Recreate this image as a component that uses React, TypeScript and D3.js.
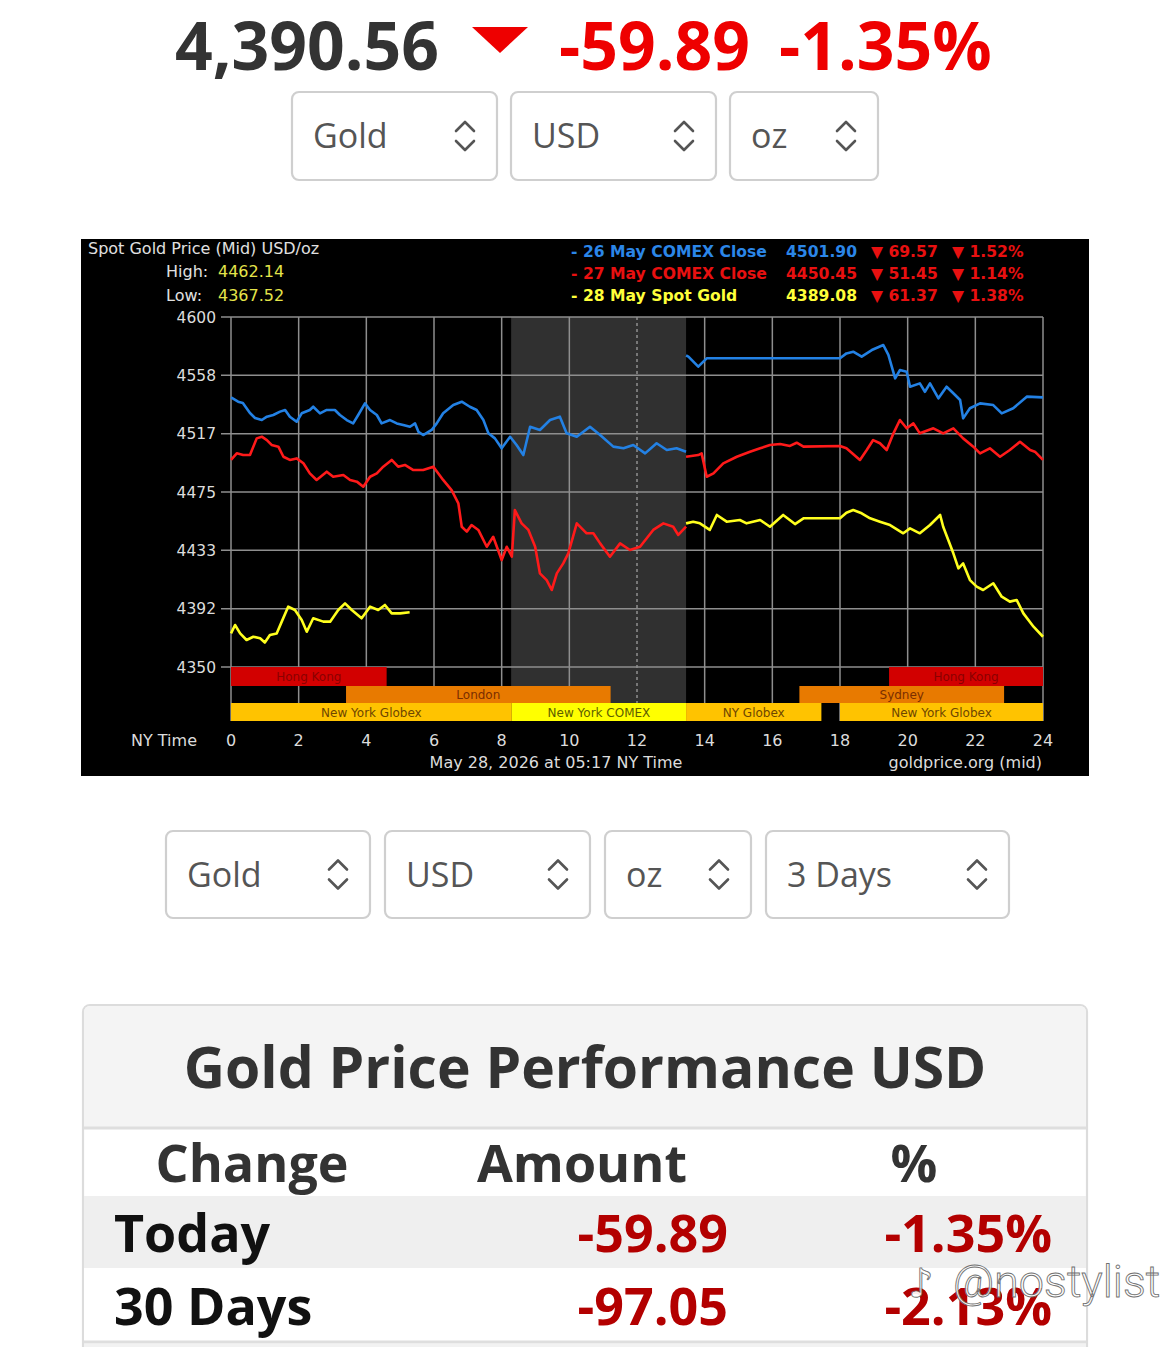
import React from 'react';
import * as d3 from 'd3';

// ---------- DATA ----------
const headerPrice = '4,390.56';
const headerChange = '-59.89';
const headerPct = '-1.35%';

const topSelects = ['Gold', 'USD', 'oz'];
const bottomSelects = ['Gold', 'USD', 'oz', '3 Days'];

const hourTicks = [0, 2, 4, 6, 8, 10, 12, 14, 16, 18, 20, 22, 24];
const priceTickValues = [4350, 4391.67, 4433.33, 4475, 4516.67, 4558.33, 4600];
const priceTickLabels = ['4350', '4392', '4433', '4475', '4517', '4558', '4600'];

const chartTitle = 'Spot Gold Price (Mid) USD/oz';
const highValue = '4462.14';
const lowValue = '4367.52';
const dateLabel = 'May 28, 2026 at 05:17 NY Time';
const sourceLabel = 'goldprice.org (mid)';

const legendLabels = ['- 26 May COMEX Close', '- 27 May COMEX Close', '- 28 May Spot Gold'];
const legendValues = ['4501.90', '4450.45', '4389.08'];
const legendChanges = ['69.57', '51.45', '61.37'];
const legendPcts = ['1.52%', '1.14%', '1.38%'];

const comexWindow = [8.28, 13.45];

const sessionNames = ['Hong Kong', 'London', 'New York Globex', 'New York COMEX', 'NY Globex', 'Sydney', 'New York Globex', 'Hong Kong'];
const sessionStarts = [0, 3.4, 0, 8.3, 13.45, 16.8, 18.0, 19.45];
const sessionEnds = [4.6, 11.22, 8.3, 13.45, 17.45, 22.85, 24, 24];
const sessionRows = [0, 1, 2, 2, 2, 1, 2, 0];
const sessionKinds = ['hk', 'ldn', 'nyg', 'comex', 'nyg', 'ldn', 'nyg', 'hk'];

// Blue: 26 May COMEX close day
const blueA: [number, number][] = [
  [13.45, 4572.5], [13.52, 4571.7], [13.81, 4564.5], [14.06, 4570.5], [14.45, 4570.5], [18.0, 4570.5],
  [18.19, 4574], [18.39, 4575.2], [18.64, 4571.7], [18.94, 4576.4], [19.28, 4580], [19.43, 4572.9],
  [19.63, 4556.2], [19.77, 4562.1], [19.97, 4560.9], [20.07, 4550.2], [20.36, 4552.6], [20.51, 4546.6],
  [20.66, 4552.6], [20.91, 4541.9], [21.15, 4550.2], [21.35, 4545.5], [21.55, 4540.7], [21.64, 4527.6],
  [21.84, 4534.8], [22.14, 4538.3], [22.53, 4537.1], [22.78, 4531.2], [23.12, 4534.8], [23.52, 4543.1],
  [24, 4542.6],
];
const blueB: [number, number][] = [
  [0, 4542.6], [0.21, 4539.5], [0.35, 4538.6], [0.56, 4531.4], [0.71, 4527.9], [0.91, 4526.4],
  [1.06, 4528.8], [1.25, 4530], [1.45, 4532.4], [1.6, 4533.6], [1.74, 4528.8], [1.94, 4525.2],
  [2.09, 4531.2], [2.33, 4533.6], [2.43, 4535.9], [2.63, 4531.2], [2.83, 4533.6], [3.07, 4533.6],
  [3.22, 4530], [3.42, 4526.4], [3.61, 4524], [3.76, 4530], [3.96, 4538.3], [4.11, 4533.6],
  [4.31, 4530], [4.45, 4524], [4.7, 4526.4], [4.9, 4524], [5.09, 4522.9], [5.29, 4521.6],
  [5.44, 4524], [5.54, 4518], [5.68, 4515.7], [5.93, 4519.3], [6.08, 4524], [6.27, 4531.2],
  [6.57, 4537.1], [6.82, 4539.5], [7.06, 4535.9], [7.26, 4533.6], [7.46, 4526.4], [7.61, 4516.9],
  [7.8, 4513.3], [8.0, 4506.2], [8.25, 4514.5], [8.44, 4508.6], [8.64, 4501.4], [8.84, 4521.6],
  [9.13, 4519.3], [9.43, 4526.4], [9.72, 4528.8], [9.92, 4516.9], [10.22, 4514.5], [10.61, 4521.6],
  [10.91, 4515.7], [11.3, 4507.4], [11.6, 4506.2], [11.89, 4508.6], [12.24, 4502.6], [12.58, 4509.8],
  [12.88, 4505], [13.17, 4506.2], [13.45, 4503.8],
];

// Red: 27 May COMEX close day
const redA: [number, number][] = [
  [13.45, 4500.2], [13.81, 4501.4], [13.91, 4502.6], [14.06, 4485.9], [14.26, 4488.3], [14.55, 4495.5],
  [14.95, 4500.2], [15.34, 4503.8], [15.64, 4506.2], [15.93, 4508.6], [16.23, 4509.3], [16.52, 4507.9],
  [16.72, 4510.2], [16.92, 4507.4], [18.0, 4507.9], [18.19, 4506.2], [18.59, 4497.9], [18.79, 4505],
  [18.98, 4512.1], [19.18, 4509.8], [19.38, 4505], [19.58, 4516.9], [19.77, 4526.4], [19.97, 4520.5],
  [20.17, 4524], [20.36, 4516.9], [20.76, 4520.5], [21.05, 4516.9], [21.35, 4520.5], [21.64, 4513.3],
  [21.94, 4507.4], [22.14, 4502.6], [22.43, 4506.2], [22.73, 4500.2], [23.02, 4505], [23.32, 4510.9],
  [23.62, 4505], [23.76, 4503.8], [24, 4497.9],
];
const redB: [number, number][] = [
  [0, 4497.9], [0.17, 4502.6], [0.36, 4501.4], [0.56, 4501.4], [0.76, 4513.3], [0.91, 4514.5],
  [1.06, 4512.1], [1.2, 4508.6], [1.4, 4507.4], [1.55, 4500.2], [1.74, 4497.9], [1.94, 4499],
  [2.14, 4495.5], [2.33, 4488.3], [2.53, 4483.6], [2.83, 4489.5], [3.02, 4485.9], [3.32, 4487.1],
  [3.52, 4483.6], [3.72, 4482.4], [3.91, 4478.8], [4.11, 4485.9], [4.31, 4488.3], [4.5, 4493.1],
  [4.75, 4497.9], [4.94, 4493.1], [5.14, 4494.3], [5.39, 4490.7], [5.68, 4490.7], [5.98, 4493.1],
  [6.27, 4483.6], [6.52, 4476.4], [6.72, 4466.9], [6.82, 4450.2], [6.97, 4446.7], [7.11, 4451.4],
  [7.31, 4447.9], [7.56, 4435.9], [7.75, 4443], [8.0, 4426.4], [8.15, 4435.9], [8.3, 4428.8],
  [8.39, 4462.1], [8.59, 4452.6], [8.79, 4447.9], [8.99, 4435.9], [9.13, 4416.9], [9.33, 4412.1],
  [9.48, 4405], [9.63, 4416.9], [9.82, 4424], [9.97, 4431.2], [10.22, 4452.6], [10.51, 4445.5],
  [10.71, 4445.5], [10.91, 4438.3], [11.2, 4428.8], [11.5, 4438.3], [11.79, 4433.6], [12.09, 4435.9],
  [12.48, 4447.9], [12.78, 4452.6], [13.07, 4450.2], [13.22, 4444.3], [13.45, 4450.2],
];

// Yellow: 28 May spot gold
const yellowA: [number, number][] = [
  [13.45, 4452.6], [13.66, 4453.8], [13.86, 4452.6], [14.15, 4447.9], [14.36, 4458.6], [14.65, 4453.8],
  [15.04, 4455], [15.24, 4452.6], [15.64, 4455], [15.93, 4450.2], [16.32, 4458.6], [16.67, 4452.1],
  [16.92, 4456.2], [18.0, 4456.2], [18.19, 4460.2], [18.39, 4462.1], [18.64, 4459.8], [18.89, 4456.2],
  [19.18, 4453.8], [19.48, 4451.4], [19.87, 4445.5], [20.07, 4449], [20.36, 4445.5], [20.66, 4451.4],
  [20.96, 4458.6], [21.05, 4450.2], [21.2, 4440.7], [21.35, 4431.2], [21.5, 4420.5], [21.64, 4424],
  [21.84, 4412.1], [22.04, 4407.4], [22.23, 4405], [22.53, 4409.8], [22.78, 4400.2], [23.02, 4396.7],
  [23.22, 4397.9], [23.42, 4388.3], [23.72, 4378.8], [24, 4371.6],
];
const yellowB: [number, number][] = [
  [0, 4374], [0.12, 4380], [0.27, 4374], [0.46, 4369.3], [0.66, 4371.6], [0.86, 4370.5],
  [1.0, 4367.5], [1.15, 4372.9], [1.35, 4374], [1.5, 4382.4], [1.69, 4393.1], [1.89, 4390.7],
  [2.09, 4383.6], [2.24, 4375.2], [2.43, 4384.8], [2.73, 4382.4], [2.93, 4382.4], [3.17, 4390.7],
  [3.37, 4395.5], [3.57, 4390.7], [3.86, 4384.8], [4.11, 4393.1], [4.35, 4390.7], [4.55, 4394.3],
  [4.75, 4388.3], [5.0, 4388.3], [5.28, 4389.1],
];

const perfLabels = ['Today', '30 Days'];
const perfAmounts = ['-59.89', '-97.05'];
const perfPcts = ['-1.35%', '-2.13%'];

// ---------- STYLE ----------
const BLUE = '#2381e4';
const RED = '#ff1a1a';
const YELLOW = '#ffff1e';
const seriesColors = [BLUE, RED, YELLOW];
const legendColors = ['#2b86e8', '#e81010', '#ffff3a'];
const sessionFill: Record<string, string> = { hk: '#d20000', ldn: '#e87a00', nyg: '#ffc300', comex: '#ffff00' };
const sessionText: Record<string, string> = { hk: '#8a0000', ldn: '#7a2e00', nyg: '#6e4600', comex: '#5d5d00' };

const OS = '"Open Sans", "Noto Sans", sans-serif';
const DV = '"DejaVu Sans", Verdana, sans-serif';

function Chevron({ cx, cy }: { cx: number; cy: number }) {
  return (
    <g fill="none" stroke="#555" strokeWidth={2.6} strokeLinecap="round" strokeLinejoin="round">
      <path d={`M${cx - 9},${cy - 5} L${cx},${cy - 14} L${cx + 9},${cy - 5}`} />
      <path d={`M${cx - 9},${cy + 5} L${cx},${cy + 14} L${cx + 9},${cy + 5}`} />
    </g>
  );
}

function SelectBox({ x, y, w, h, label }: { x: number; y: number; w: number; h: number; label: string }) {
  return (
    <g>
      <rect x={x} y={y} width={w} height={h} rx={7} fill="#fff" stroke="#cfcfcf" strokeWidth={2.2} />
      <text x={x + 21} y={y + h / 2 + 12} fontFamily={OS} fontSize={34} fill="#555">{label}</text>
      <Chevron cx={x + w - 32} cy={y + h / 2} />
    </g>
  );
}

export default function App() {
  const x = d3.scaleLinear().domain([0, 24]).range([231, 1043]);
  const y = d3.scaleLinear().domain([4350, 4600]).range([667, 317]);
  const line = d3.line<[number, number]>().x((d) => x(d[0])).y((d) => y(d[1]));

  const rowTop = [667, 686, 703];
  const rowH = [19, 17, 18];

  const topSelectX = [292, 511, 730];
  const topSelectW = [205, 205, 148];
  const botSelectX = [166, 385, 605, 766];
  const botSelectW = [204, 205, 146, 243];

  const seriesSegments: [number, number][][][] = [
    [blueA, blueB],
    [redA, redB],
    [yellowA, yellowB],
  ];

  return (
    <div style={{ position: 'absolute', left: 0, top: 0 }}>
      <svg width={1170} height={1347} viewBox="0 0 1170 1347" style={{ display: 'block', background: '#fff' }}>
        <rect x={0} y={0} width={1170} height={1347} fill="#fff" />

        {/* Header */}
        <text x={175} y={70} fontFamily={OS} fontWeight={700} fontSize={66} fill="#333">{headerPrice}</text>
        <path d="M472,27 L528,27 L500,53 Z" fill="#ee0000" />
        <text x={559} y={70} fontFamily={OS} fontWeight={700} fontSize={66} fill="#ee0000">{headerChange}</text>
        <text x={779} y={70} fontFamily={OS} fontWeight={700} fontSize={66} fill="#ee0000">{headerPct}</text>

        {topSelects.map((s, i) => (
          <SelectBox key={'ts' + i} x={topSelectX[i]} y={92} w={topSelectW[i]} h={88} label={s} />
        ))}

        {/* Chart */}
        <rect x={81} y={239} width={1008} height={537} fill="#000" />
        <rect x={x(comexWindow[0])} y={317} width={x(comexWindow[1]) - x(comexWindow[0])} height={386} fill="#303030" />

        {priceTickValues.map((v, i) => (
          <g key={'yt' + i}>
            <line x1={221} x2={x(24)} y1={y(v)} y2={y(v)} stroke="#8e8e8e" strokeWidth={1.5} />
            <text x={216} y={y(v) + 5.5} textAnchor="end" fontFamily={DV} fontSize={15.5} fill="#dcdcdc">{priceTickLabels[i]}</text>
          </g>
        ))}
        {hourTicks.map((h) => (
          <g key={'xt' + h}>
            <line x1={x(h)} x2={x(h)} y1={317} y2={721} stroke="#8e8e8e" strokeWidth={1.5} strokeDasharray={h === 12 ? '3,3' : undefined} />
            <text x={x(h)} y={746} textAnchor="middle" fontFamily={DV} fontSize={16} fill="#dcdcdc">{h}</text>
          </g>
        ))}

        {sessionNames.map((n, i) => {
          const x0 = x(sessionStarts[i]);
          const x1 = x(sessionEnds[i]);
          const r = sessionRows[i];
          const k = sessionKinds[i];
          return (
            <g key={'ss' + i}>
              <rect x={x0} y={rowTop[r]} width={x1 - x0} height={rowH[r]} fill={sessionFill[k]} />
              <text x={(x0 + x1) / 2} y={rowTop[r] + rowH[r] / 2 + 4.5} textAnchor="middle" fontFamily={DV} fontSize={12} fill={sessionText[k]}>{n}</text>
            </g>
          );
        })}

        {seriesSegments.map((segs, si) =>
          segs.map((seg, j) => (
            <path key={'ln' + si + j} d={line(seg) || ''} fill="none" stroke={seriesColors[si]} strokeWidth={2.6} strokeLinejoin="round" />
          ))
        )}

        <text x={88} y={254} fontFamily={DV} fontSize={16} fill="#e0e0e0">{chartTitle}</text>
        <text x={166} y={277} fontFamily={DV} fontSize={16} fill="#e0e0e0">High:</text>
        <text x={218} y={277} fontFamily={DV} fontSize={16} fill="#e4e44a">{highValue}</text>
        <text x={166} y={301} fontFamily={DV} fontSize={16} fill="#e0e0e0">Low:</text>
        <text x={218} y={301} fontFamily={DV} fontSize={16} fill="#e4e44a">{lowValue}</text>

        {legendLabels.map((l, i) => (
          <g key={'lg' + i} fontFamily={DV} fontWeight={700} fontSize={15.6}>
            <text x={571} y={257 + i * 22} fill={legendColors[i]}>{l}</text>
            <text x={786} y={257 + i * 22} fill={legendColors[i]}>{legendValues[i]}</text>
            <text x={871} y={257 + i * 22} fill="#e81010">{'\u25BC ' + legendChanges[i]}</text>
            <text x={952} y={257 + i * 22} fill="#e81010">{'\u25BC ' + legendPcts[i]}</text>
          </g>
        ))}

        <text x={131} y={746} fontFamily={DV} fontSize={16} fill="#dcdcdc">NY Time</text>
        <text x={556} y={768} textAnchor="middle" fontFamily={DV} fontSize={16} fill="#dcdcdc">{dateLabel}</text>
        <text x={1042} y={768} textAnchor="end" fontFamily={DV} fontSize={16} fill="#dcdcdc">{sourceLabel}</text>

        {/* Second selects row */}
        {bottomSelects.map((s, i) => (
          <SelectBox key={'bs' + i} x={botSelectX[i]} y={831} w={botSelectW[i]} h={87} label={s} />
        ))}

        {/* Performance table */}
        <rect x={83} y={1005} width={1004} height={360} rx={7} fill="#fff" stroke="#dcdcdc" strokeWidth={2.2} />
        <path d="M84,1127 L84,1012 Q84,1006 90,1006 L1080,1006 Q1086,1006 1086,1012 L1086,1127 Z" fill="#f4f4f4" />
        <line x1={84} x2={1086} y1={1128} y2={1128} stroke="#dedede" strokeWidth={3} />
        <text x={585} y={1088} textAnchor="middle" fontFamily={OS} fontWeight={700} fontSize={57} fill="#333">Gold Price Performance USD</text>
        <text x={252} y={1182} textAnchor="middle" fontFamily={OS} fontWeight={700} fontSize={52} fill="#333">Change</text>
        <text x={582} y={1182} textAnchor="middle" fontFamily={OS} fontWeight={700} fontSize={52} fill="#333">Amount</text>
        <text x={914} y={1182} textAnchor="middle" fontFamily={OS} fontWeight={700} fontSize={52} fill="#333">%</text>
        {perfLabels.map((l, i) => (
          <g key={'pr' + i}>
            <rect x={84} y={1196 + i * 72} width={1002} height={72} fill={i === 0 ? '#efefef' : '#fff'} />
            <text x={114} y={1252 + i * 73} fontFamily={OS} fontWeight={700} fontSize={52} fill="#111">{l}</text>
            <text x={728} y={1252 + i * 73} textAnchor="end" fontFamily={OS} fontWeight={700} fontSize={52} fill="#b30000">{perfAmounts[i]}</text>
            <text x={1052} y={1252 + i * 73} textAnchor="end" fontFamily={OS} fontWeight={700} fontSize={52} fill="#b30000">{perfPcts[i]}</text>
          </g>
        ))}
        <line x1={84} x2={1086} y1={1342} y2={1342} stroke="#dedede" strokeWidth={3} />
        <rect x={84} y={1344} width={1002} height={3} fill="#f2f2f2" />

        {/* watermark */}
        <g opacity={0.92}>
          <text x={908} y={1297} fontFamily={DV} fontSize={40} fill="#fff" stroke="#666" strokeWidth={0.9}>{'\u266A'}</text>
          <text x={953} y={1297} fontFamily={'Roboto, sans-serif'} fontWeight={300} fontSize={45} fill="#fff" stroke="#666" strokeWidth={0.9}>@nostylist</text>
        </g>
      </svg>
    </div>
  );
}
